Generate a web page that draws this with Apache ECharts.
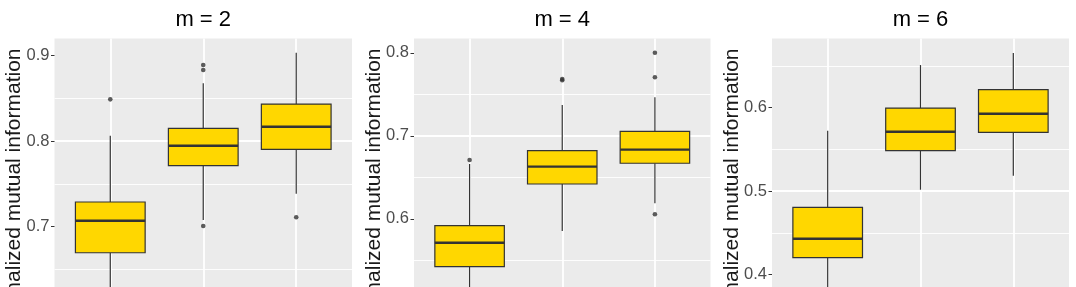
<!DOCTYPE html>
<html><head><meta charset="utf-8">
<script src="https://cdn.jsdelivr.net/npm/echarts@6/dist/echarts.min.js"></script>
<style>html,body{margin:0;padding:0;background:#fff}#c{width:1076px;height:287px}</style>
</head><body><div id="c"></div>
<script>
// ---- data ----
const panelTitles = ['m = 2', 'm = 4', 'm = 6'];
const yTitle = 'normalized mutual information';
const xPositions = [1, 2, 3];
// boxes: [lower whisker, Q1, median, Q3, upper whisker]
const boxes_m2 = [
  [0.600, 0.6696, 0.7070, 0.7289, 0.8063],
  [0.7078, 0.7713, 0.7946, 0.8150, 0.8675],
  [0.7386, 0.7904, 0.8168, 0.8433, 0.9033]
];
const boxes_m4 = [
  [0.480, 0.5424, 0.5713, 0.5918, 0.6661],
  [0.5854, 0.6420, 0.6629, 0.6822, 0.7372],
  [0.6188, 0.6670, 0.6834, 0.7055, 0.7465]
];
const boxes_m6 = [
  [0.340, 0.4204, 0.4430, 0.4807, 0.5725],
  [0.5018, 0.5485, 0.5713, 0.5996, 0.6511],
  [0.5186, 0.5705, 0.5928, 0.6216, 0.6655]
];
// outliers: [x position, value]
const outliers_m2 = [[1, 0.8488], [2, 0.8889], [2, 0.8831], [2, 0.7008], [3, 0.7110]];
const outliers_m4 = [[1, 0.6710], [2, 0.7670], [2, 0.7685], [3, 0.8002], [3, 0.7706], [3, 0.6055]];
const outliers_m6 = [];
const yTicks_m2 = [0.7, 0.8, 0.9];
const yTicks_m4 = [0.6, 0.7, 0.8];
const yTicks_m6 = [0.4, 0.5, 0.6];
const yMax = [0.9199, 0.8173, 0.6829];

// ---- layout ----
const FONT = '"Liberation Sans", Arial, sans-serif';
const H = 287, TOP = 38.5, GRID_H = H - TOP;
const panels = [
  {left: 54.5, width: 297.5, ppu: 856, boxes: boxes_m2, outliers: outliers_m2, ticks: yTicks_m2},
  {left: 414, width: 296.5, ppu: 830, boxes: boxes_m4, outliers: outliers_m4, ticks: yTicks_m4},
  {left: 772, width: 297, ppu: 835, boxes: boxes_m6, outliers: outliers_m6, ticks: yTicks_m6}
];

function renderBox(params, api) {
  const x = api.value(0);
  const pLo = api.coord([x, api.value(1)]);
  const pQ1 = api.coord([x, api.value(2)]);
  const pMed = api.coord([x, api.value(3)]);
  const pQ3 = api.coord([x, api.value(4)]);
  const pHi = api.coord([x, api.value(5)]);
  const hw = api.size([0.75, 0])[0] / 2;
  const cx = pMed[0];
  const stroke = '#333333';
  return {type: 'group', children: [
    {type: 'line', shape: {x1: cx, y1: pLo[1], x2: cx, y2: pQ1[1]}, style: {stroke, lineWidth: 1.2}},
    {type: 'line', shape: {x1: cx, y1: pQ3[1], x2: cx, y2: pHi[1]}, style: {stroke, lineWidth: 1.2}},
    {type: 'rect', shape: {x: cx - hw, y: pQ3[1], width: 2 * hw, height: pQ1[1] - pQ3[1]},
      style: {fill: '#FFD700', stroke, lineWidth: 1.2}},
    {type: 'line', shape: {x1: cx - hw, y1: pMed[1], x2: cx + hw, y2: pMed[1]}, style: {stroke, lineWidth: 2.4}}
  ]};
}

const grid = [], xAxis = [], yAxis = [], series = [], graphic = [];
panels.forEach((p, i) => {
  const yMin = yMax[i] - GRID_H / p.ppu;
  grid.push({left: p.left, top: TOP, width: p.width, height: GRID_H, outerBoundsMode: 'none',
    show: true, backgroundColor: '#EBEBEB', borderWidth: 0, containLabel: false});
  xAxis.push({type: 'value', gridIndex: i, min: 0.4, max: 3.6,
    axisLine: {show: false}, axisTick: {show: false}, axisLabel: {show: false}, splitLine: {show: false}});
  yAxis.push({type: 'value', gridIndex: i, min: yMin, max: yMax[i], splitNumber: 3,
    axisLine: {show: false},
    axisTick: {show: true, length: 3.5, customValues: p.ticks, lineStyle: {color: '#333', width: 1}},
    axisLabel: {show: true, customValues: p.ticks, margin: 5, color: '#4D4D4D', fontSize: 16.5, fontFamily: FONT,
      formatter: v => v.toFixed(1)},
    splitLine: {show: true, showMinLine: false, showMaxLine: false, lineStyle: {color: '#FFFFFF', width: 1.8}},
    minorTick: {show: false, splitNumber: 2},
    minorSplitLine: {show: true, lineStyle: {color: '#FFFFFF', width: 0.9}}
  });
  series.push({
    type: 'custom', xAxisIndex: i, yAxisIndex: i, z: 2, clip: false,
    renderItem: renderBox,
    encode: {x: 0, y: [1, 2, 3, 4, 5]},
    emphasis: {disabled: true}, silent: true,
    data: p.boxes.map((b, k) => [xPositions[k]].concat(b)),
    markLine: {silent: true, z: 1, symbol: ['none', 'none'], label: {show: false}, animation: false,
      lineStyle: {color: '#FFFFFF', width: 1.8, type: 'solid'}, emphasis: {disabled: true},
      data: xPositions.map(x => ({xAxis: x}))}
  });
  series.push({
    type: 'scatter', xAxisIndex: i, yAxisIndex: i, z: 4, symbolSize: 4.6,
    itemStyle: {color: '#333333'}, emphasis: {disabled: true}, silent: true,
    data: p.outliers
  });
  const cx = p.left + p.width / 2;
  graphic.push({type: 'text', x: cx, y: 20, silent: true,
    style: {text: panelTitles[i], textAlign: 'center', textVerticalAlign: 'middle', fill: '#000', font: '22px ' + FONT}});
  graphic.push({type: 'text', x: p.left - 40, y: 48.5, rotation: Math.PI / 2, silent: true,
    style: {text: yTitle, textAlign: 'right', textVerticalAlign: 'middle', fill: '#1a1a1a', font: '21px ' + FONT}});
});

const chart = echarts.init(document.getElementById('c'), null, {renderer: 'canvas'});
chart.setOption({animation: false, grid, xAxis, yAxis, series, graphic, tooltip: {show: false}});
</script>
</body></html>
